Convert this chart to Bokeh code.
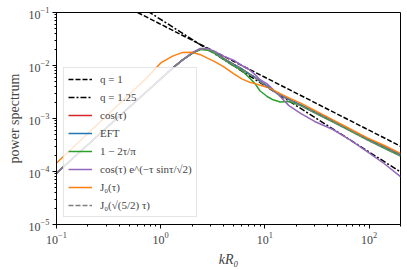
from bokeh.plotting import figure
from bokeh.models import Range1d, Legend, LegendItem, LogTicker
from bokeh.embed import file_html
from bokeh.resources import INLINE

# ---- data ----
k = [0.1, 0.15, 0.2, 0.3, 0.5, 0.7, 1.0, 1.3, 1.6, 2.0, 2.4, 2.8, 3.3, 4.0, 5.0,
     6.0, 7.0, 8.0, 9.0, 10.5, 12, 14, 17, 22, 30, 45, 65, 95, 140, 200]

p_cos = [9.3e-5, 1.92e-4, 3.2e-4, 6.6e-4, 1.64e-3, 2.97e-3, 5.6e-3, 8.9e-3, 1.25e-2, 1.7e-2,
         2.04e-2, 2.04e-2, 1.8e-2, 1.36e-2, 1.06e-2, 8.6e-3, 7.0e-3, 6.0e-3, 5.0e-3, 4.1e-3,
         3.4e-3, 2.8e-3, 2.3e-3, 1.8e-3, 1.33e-3, 9.0e-4, 6.2e-4, 4.2e-4, 2.9e-4, 2.07e-4]
p_eft = [9.3e-5, 1.92e-4, 3.2e-4, 6.6e-4, 1.64e-3, 2.97e-3, 5.6e-3, 8.9e-3, 1.25e-2, 1.7e-2,
         2.05e-2, 2.05e-2, 1.8e-2, 1.35e-2, 1.05e-2, 8.6e-3, 7.0e-3, 6.0e-3, 5.0e-3, 4.1e-3,
         3.4e-3, 2.8e-3, 2.3e-3, 1.8e-3, 1.33e-3, 9.0e-4, 6.2e-4, 4.2e-4, 2.9e-4, 2.07e-4]
p_lin = [9.3e-5, 1.92e-4, 3.2e-4, 6.6e-4, 1.64e-3, 2.97e-3, 5.6e-3, 8.9e-3, 1.25e-2, 1.7e-2,
         2.0e-2, 1.95e-2, 1.7e-2, 1.3e-2, 9.8e-3, 8.0e-3, 6.0e-3, 4.6e-3, 3.3e-3, 2.6e-3,
         2.25e-3, 2.05e-3, 2.1e-3, 1.75e-3, 1.28e-3, 8.6e-4, 5.9e-4, 4.0e-4, 2.75e-4, 1.95e-4]
p_dmp = [9.3e-5, 1.92e-4, 3.2e-4, 6.6e-4, 1.64e-3, 2.97e-3, 5.6e-3, 8.9e-3, 1.25e-2, 1.75e-2,
         2.1e-2, 2.1e-2, 1.85e-2, 1.5e-2, 1.26e-2, 1.0e-2, 8.5e-3, 6.8e-3, 5.4e-3, 4.5e-3,
         3.5e-3, 2.6e-3, 1.75e-3, 1.25e-3, 8.8e-4, 6.2e-4, 4.0e-4, 2.4e-4, 1.4e-4, 8.0e-5]
p_j0 = [1.45e-4, 3.07e-4, 5.2e-4, 1.1e-3, 2.86e-3, 5.3e-3, 1.12e-2, 1.5e-2, 1.75e-2, 1.78e-2,
        1.6e-2, 1.38e-2, 1.18e-2, 9.5e-3, 7.0e-3, 5.6e-3, 4.9e-3, 4.55e-3, 4.25e-3, 3.9e-3,
        3.45e-3, 2.95e-3, 2.45e-3, 1.95e-3, 1.42e-3, 9.4e-4, 6.4e-4, 4.35e-4, 3.1e-4, 2.2e-4]
p_j0s = [9.3e-5, 1.92e-4, 3.2e-4, 6.6e-4, 1.64e-3, 2.97e-3, 5.6e-3, 8.9e-3, 1.25e-2, 1.7e-2,
         2.04e-2, 2.03e-2, 1.78e-2, 1.34e-2, 1.04e-2, 8.5e-3, 6.9e-3, 5.9e-3, 4.9e-3, 4.0e-3,
         3.3e-3, 2.75e-3, 2.25e-3, 1.75e-3, 1.3e-3, 8.7e-4, 6.0e-4, 4.0e-4, 2.8e-4, 1.98e-4]

k_ref = [0.1, 200]
p_q1 = [0.6, 3.0e-4]
p_q125 = [1.32, 9.8e-5]

labels = ["q = 1", "q = 1.25", "cos(τ)", "EFT", "1 − 2τ/π",
          "cos(τ) e^(−τ sinτ/√2)", "J₀(τ)", "J₀(√(5/2) τ)"]

SERIF = "Liberation Serif"

p = figure(width=407, height=269, x_axis_type="log", y_axis_type="log",
           x_range=Range1d(0.1, 200), y_range=Range1d(1e-5, 1e-1),
           output_backend="svg", toolbar_location=None,
           min_border_left=56, min_border_right=7, min_border_top=12, min_border_bottom=44)

p.grid.visible = False
p.outline_line_color = "black"
p.outline_line_width = 1
p.background_fill_color = "white"

for ax in (p.xaxis[0], p.yaxis[0]):
    ax.major_tick_in = 0
    ax.major_tick_out = 4
    ax.minor_tick_in = 0
    ax.minor_tick_out = 2
    ax.major_label_text_font = SERIF
    ax.major_label_text_font_size = "12px"
    ax.axis_label_text_font = SERIF
    ax.axis_label_text_font_size = "14px"
    ax.axis_label_text_font_style = "normal"
    ax.axis_line_color = "black"
    ax.major_label_standoff = 3

p.xaxis.axis_label = "kR₀"
p.xaxis.axis_label_text_font_style = "italic"
p.xaxis.axis_label_standoff = 5
p.yaxis.axis_label = "power spectrum"
p.yaxis.axis_label_standoff = 4
p.xaxis.ticker = LogTicker(desired_num_ticks=4, num_minor_ticks=10)
p.yaxis.ticker = LogTicker(desired_num_ticks=5, num_minor_ticks=10)

r_q1 = p.line(k_ref, p_q1, line_color="black", line_width=1.5, line_dash="5 2")
r_q125 = p.line(k_ref, p_q125, line_color="black", line_width=1.5, line_dash="6 2 2 2")
r_cos = p.line(k, p_cos, line_color="#d62728", line_width=1.5)
r_eft = p.line(k, p_eft, line_color="#1f77b4", line_width=1.5)
r_lin = p.line(k, p_lin, line_color="#2ca02c", line_width=1.5)
r_dmp = p.line(k, p_dmp, line_color="#9467bd", line_width=1.5)
r_j0 = p.line(k, p_j0, line_color="#ff7f0e", line_width=1.5)
r_j0s = p.line(k, p_j0s, line_color="#7f7f7f", line_width=1.5, line_dash="5 2")

renderers = [r_q1, r_q125, r_cos, r_eft, r_lin, r_dmp, r_j0, r_j0s]
legend = Legend(items=[LegendItem(label=l, renderers=[r]) for l, r in zip(labels, renderers)],
                location="bottom_left", margin=7, padding=4, spacing=4,
                glyph_width=24, glyph_height=14, label_height=14, label_standoff=8,
                label_text_font=SERIF, label_text_font_size="11px",
                border_line_color="#cccccc", border_line_width=1,
                background_fill_color="white", background_fill_alpha=0.8)
p.add_layout(legend)

open("out.html", "w").write(file_html(p, INLINE))
